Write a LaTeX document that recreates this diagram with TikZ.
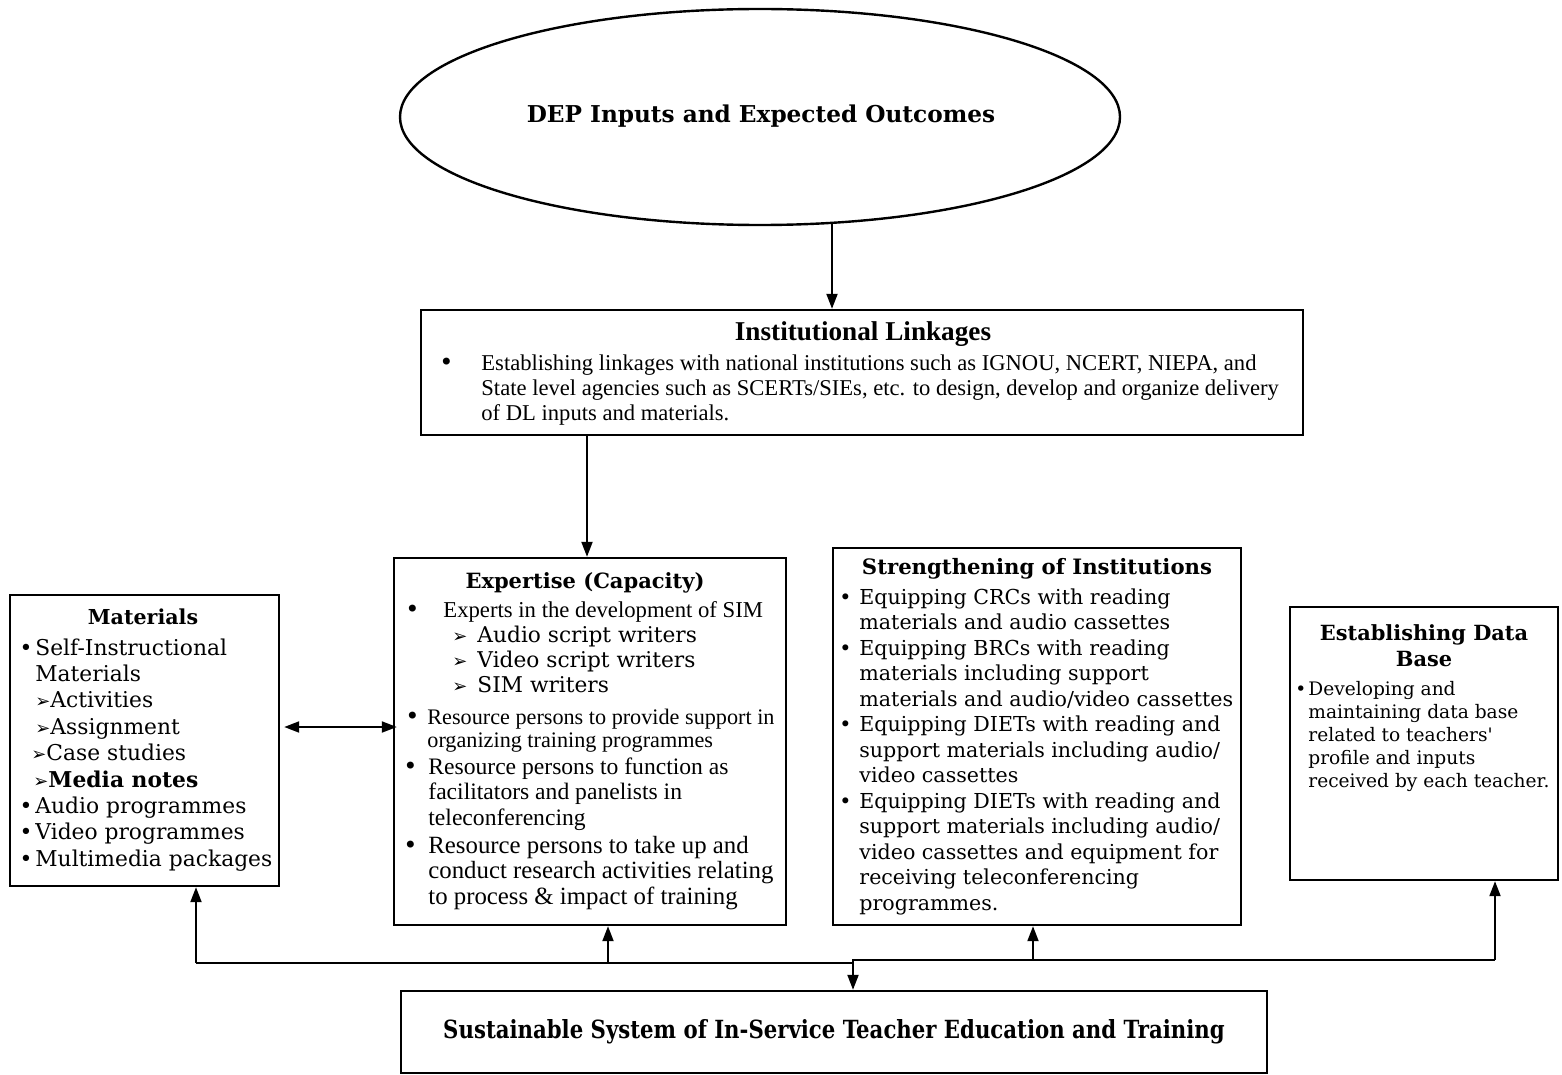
\documentclass[tikz,border=0pt]{standalone}
\usepackage{fontspec}
\setmainfont{Liberation Serif}
\newfontfamily\bk{DejaVu Serif}
\newfontfamily\bkn[FakeStretch=0.85]{DejaVu Serif}
\newfontfamily\dsans{DejaVu Sans}
\usetikzlibrary{shapes.geometric,arrows.meta,calc}

% font size helper and a stack of left-aligned rows whose baseline is the first row
\newcommand\fs[2]{\fontsize{#1}{#2}\selectfont}
\newcommand\rows[1]{\vtop{\let\\\cr\halign{##\hfil\cr#1\crcr}}}
\newcommand\tri{{\dsans\fontsize{9pt}{9pt}\selectfont ➢}}
\newcommand\bul{•}
\newcommand\bigbul{{\bk\fontsize{12pt}{12pt}\selectfont •}}
\newcommand\lbul[1]{\llap{\bul\hspace{#1}}}

\begin{document}
\begin{tikzpicture}[x=0.5pt,y=-0.5pt,
  box/.style={draw,line width=1.2pt,inner sep=0pt,rectangle},
  txt/.style={inner sep=0pt,anchor=base west},
  ttl/.style={inner sep=0pt,anchor=base},
  line/.style={line width=1pt},
  arr/.style={line width=1pt,-{Triangle[length=7.5pt,width=5.5pt]}},
  arrboth/.style={line width=1pt,{Triangle[length=7.5pt,width=5.5pt]}-{Triangle[length=7.5pt,width=5.5pt]}}]
\useasboundingbox (0,0) rectangle (1562,1075);

% ---- top ellipse ----
\node[draw,ellipse,line width=1.2pt,inner sep=0pt,minimum width=360pt,minimum height=108pt]
  (ell) at (760,117) {};
\node[ttl] (ellt) at (761,123) {\bk\bfseries\fs{11.6pt}{13pt}DEP Inputs and Expected Outcomes};

% ---- institutional linkages ----
\node[box,minimum width=441pt,minimum height=62.5pt] (il) at (862,372.5) {};
\node[ttl] (ilt) at (863,340) {\bfseries\fs{13.6pt}{15pt}Institutional Linkages};
\node[txt] (ilb) at (439,370) {\bigbul};
\node[txt] (ilx) at (481,370) {\fs{11.3pt}{12.5pt}\rows{%
  Establishing linkages with national institutions such as IGNOU, NCERT, NIEPA, and\\
  State level agencies such as SCERTs/SIEs, etc. to design, develop and organize delivery\\
  of DL inputs and materials.}};

% ---- materials ----
\node[box,minimum width=134.5pt,minimum height=145.5pt] (mat) at (144.5,740.5) {};
\node[ttl] (matt) at (143,624) {\bk\bfseries\fs{10.3pt}{12pt}Materials};
\node[txt] (matx) at (35,655) {\bk\fs{10.9pt}{13.2pt}\rows{%
  \lbul{1.5pt}Self-Instructional\\
  Materials\\
  \tri Activities\\
  \tri Assignment\\
  \hspace{-2pt}\tri Case studies\\
  \hspace{-1pt}\tri\textbf{Media notes}\\
  \lbul{1.5pt}Audio programmes\\
  \lbul{1.5pt}Video programmes\\
  \lbul{1.5pt}Multimedia packages}};

% ---- expertise ----
\node[box,minimum width=196pt,minimum height=183.5pt] (exp) at (590,741.5) {};
\node[ttl] (expt) at (585,588) {\bk\bfseries\fs{10.5pt}{12pt}Expertise (Capacity)};
\node[txt] (expb1) at (405,617) {\bigbul};
\node[txt] (expx1) at (443,617) {\fs{11.35pt}{12.5pt}Experts in the development of SIM};
\node[txt] (expx2) at (452,642) {\bk\fs{10.85pt}{12.5pt}\rows{%
  \tri\hspace{5pt}Audio script writers\\
  \tri\hspace{5pt}Video script writers\\
  \tri\hspace{5pt}SIM writers}};
\node[txt] (expb2) at (405,724) {\bigbul};
\node[txt] (expx3) at (427,724) {\fs{11.1pt}{11.5pt}\rows{%
  Resource persons to provide support in\\
  organizing training programmes}};
\node[txt] (expb3) at (403,774) {\bigbul};
\node[txt] (expx4) at (428,774) {\fs{11.8pt}{12.8pt}\rows{%
  Resource persons to function as\\
  facilitators and panelists in\\
  teleconferencing}};
\node[txt] (expb4) at (403,853) {\bigbul};
\node[txt] (expx5) at (428,853) {\fs{12.4pt}{12.8pt}\rows{%
  Resource persons to take up and\\
  conduct research activities relating\\
  to process \& impact of training}};

% ---- strengthening of institutions ----
\node[box,minimum width=204pt,minimum height=188.5pt] (str) at (1037,736.5) {};
\node[ttl] (strt) at (1037,574) {\bk\bfseries\fs{10.6pt}{12pt}Strengthening of Institutions};
\node[txt] (strx) at (859,604) {\bk\fs{10.3pt}{12.75pt}\rows{%
  \lbul{4pt}Equipping CRCs with reading\\
  materials and audio cassettes\\
  \lbul{4pt}Equipping BRCs with reading\\
  materials including support\\
  materials and audio/video cassettes\\
  \lbul{4pt}Equipping DIETs with reading and\\
  support materials including audio/\\
  video cassettes\\
  \lbul{4pt}Equipping DIETs with reading and\\
  support materials including audio/\\
  video cassettes and equipment for\\
  receiving teleconferencing\\
  programmes.}};

% ---- data base ----
\node[box,minimum width=134pt,minimum height=136.5pt] (db) at (1424,743.5) {};
\node[ttl] (dbt1) at (1424,640) {\bk\bfseries\fs{10.45pt}{12pt}Establishing Data};
\node[ttl] (dbt2) at (1424,666) {\bk\bfseries\fs{10.45pt}{12pt}Base};
\node[txt] (dbx) at (1308,695) {\bk\fs{9.3pt}{11.5pt}\rows{%
  \lbul{1pt}Developing and\\
  maintaining data base\\
  related to teachers'\\
  profile and inputs\\
  received by each teacher.}};

% ---- sustainable system ----
\node[box,minimum width=433pt,minimum height=41pt] (sus) at (834,1032) {};
\node[ttl] (sust) at (834,1038) {\bkn\bfseries\fs{12.5pt}{14pt}Sustainable System of In-Service Teacher Education and Training};

% ---- connectors ----
\coordinate (xa) at (832,0);
\coordinate (xb) at (587,0);
\coordinate (yc) at (0,727);
\coordinate (b1) at (196,963);
\coordinate (b2) at (608,963);
\coordinate (b5) at (853,963);
\coordinate (b6) at (853,960);
\coordinate (b3) at (1033,960);
\coordinate (b4) at (1495,960);

\draw[arr] ($(ell.south -| xa)+(0,-2)$) -- (il.north -| xa);
\draw[arr] (il.south -| xb) -- (exp.north -| xb);
\draw[arrboth] ($(mat.east |- yc)+(4,0)$) -- ($(exp.west |- yc)+(4,0)$);
\draw[line] (b1) -- (b5) -- (b6) -- (b4);
\draw[arr] (b1) -- (mat.south -| b1);
\draw[arr] (b2) -- (exp.south -| b2);
\draw[arr] (b3) -- (str.south -| b3);
\draw[arr] (b4) -- (db.south -| b4);
\draw[arr] (b5) -- (sus.north -| b5);
\end{tikzpicture}
\end{document}
